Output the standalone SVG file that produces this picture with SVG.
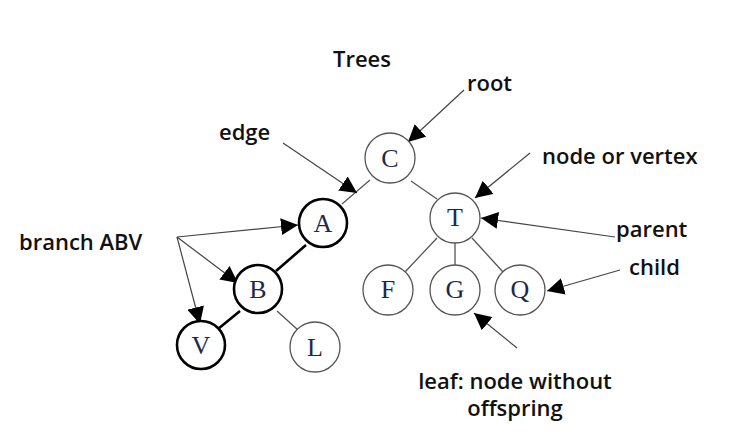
<svg xmlns="http://www.w3.org/2000/svg" width="747" height="443" viewBox="0 0 747 443">
<defs>
<marker id="ah" viewBox="0 0 10 10" refX="10" refY="5" markerWidth="17" markerHeight="17" markerUnits="userSpaceOnUse" orient="auto">
<path d="M0,0 L10,5 L0,10 z" fill="#000"/>
</marker>
<style>
.lbl{font-family:"Open Sans","Noto Sans",sans-serif;font-weight:600;font-size:22px;fill:#111}
.n circle{fill:#fff;stroke:#555;stroke-width:1.3}
.n.thick circle{stroke:#000;stroke-width:2.6}
.n text{font-family:"Liberation Serif","DejaVu Serif",serif;font-size:26px;fill:#1c2a4a;text-anchor:middle}
.e{stroke:#555;stroke-width:1.3;fill:none}
.et{stroke:#000;stroke-width:2.6;fill:none}
.a{stroke:#444;stroke-width:1.2;fill:none;marker-end:url(#ah)}
</style>
</defs>
<rect width="747" height="443" fill="#fff"/>
<g id="connectors">
<line class="e" x1="370" y1="180" x2="342" y2="204"/>
<line class="e" x1="411" y1="181" x2="437" y2="199"/>
<line class="et" x1="306" y1="245" x2="276" y2="271"/>
<line class="et" x1="240" y1="311" x2="218" y2="329"/>
<line class="e" x1="277" y1="311" x2="298" y2="330"/>
<line class="e" x1="437" y1="238" x2="405" y2="272"/>
<line class="e" x1="455" y1="242" x2="455" y2="265"/>
<line class="e" x1="472" y1="238" x2="503" y2="272"/>
<line class="a" x1="464" y1="90" x2="408" y2="142"/>
<line class="a" x1="283" y1="143" x2="357" y2="193"/>
<line class="a" x1="530" y1="153" x2="475" y2="198"/>
<line class="a" x1="177" y1="237" x2="298" y2="225"/>
<line class="a" x1="177" y1="237" x2="238" y2="283"/>
<line class="a" x1="177" y1="237" x2="200" y2="324"/>
<line class="a" x1="615" y1="237" x2="481" y2="218"/>
<line class="a" x1="620" y1="270" x2="547" y2="291"/>
<line class="a" x1="517" y1="348" x2="474" y2="313"/>
</g>
<g id="node-C" class="n"><circle cx="390" cy="158" r="25"/><text x="390" y="167">C</text></g>
<g id="node-A" class="n thick"><circle cx="323" cy="223" r="24"/><text x="323" y="232">A</text></g>
<g id="node-T" class="n"><circle cx="455" cy="218" r="25"/><text x="455" y="226">T</text></g>
<g id="node-B" class="n thick"><circle cx="258" cy="289" r="24"/><text x="258" y="298">B</text></g>
<g id="node-F" class="n"><circle cx="388" cy="290" r="25"/><text x="388" y="298">F</text></g>
<g id="node-G" class="n"><circle cx="455" cy="290" r="25"/><text x="455" y="298">G</text></g>
<g id="node-Q" class="n"><circle cx="520" cy="290" r="25"/><text x="520" y="298">Q</text></g>
<g id="node-V" class="n thick"><circle cx="201" cy="345" r="24"/><text x="201" y="354">V</text></g>
<g id="node-L" class="n"><circle cx="315" cy="347" r="25"/><text x="315" y="356">L</text></g>
<g id="labels">
<text class="lbl" x="333" y="67">Trees</text>
<text class="lbl" x="467" y="91">root</text>
<text class="lbl" x="219" y="140">edge</text>
<text class="lbl" x="542" y="164">node or vertex</text>
<text class="lbl" x="19" y="250">branch ABV</text>
<text class="lbl" x="616" y="237">parent</text>
<text class="lbl" x="629" y="275">child</text>
<text class="lbl" x="515" y="389" text-anchor="middle">leaf: node without</text>
<text class="lbl" x="515" y="416" text-anchor="middle">offspring</text>
</g>
</svg>
